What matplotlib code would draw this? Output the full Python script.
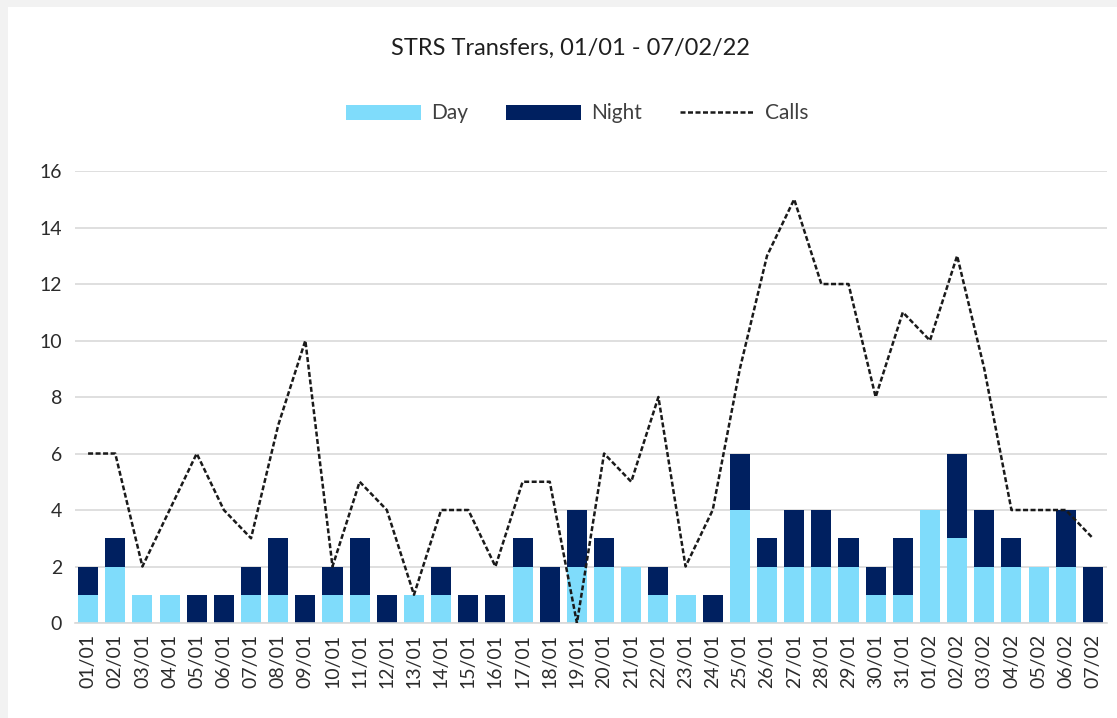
import numpy as np
import matplotlib.pyplot as plt
from matplotlib.patches import Rectangle

# dates on the x axis
dates = ['01/01', '02/01', '03/01', '04/01', '05/01', '06/01', '07/01', '08/01', '09/01', '10/01',
         '11/01', '12/01', '13/01', '14/01', '15/01', '16/01', '17/01', '18/01', '19/01', '20/01',
         '21/01', '22/01', '23/01', '24/01', '25/01', '26/01', '27/01', '28/01', '29/01', '30/01',
         '31/01', '01/02', '02/02', '03/02', '04/02', '05/02', '06/02', '07/02']

# transfers split by shift
day = [1, 2, 1, 1, 0, 0, 1, 1, 0, 1,
       1, 0, 1, 1, 0, 0, 2, 0, 2, 2,
       2, 1, 1, 0, 4, 2, 2, 2, 2, 1,
       1, 4, 3, 2, 2, 2, 2, 0]
night = [1, 1, 0, 0, 1, 1, 1, 2, 1, 1,
         2, 1, 0, 1, 1, 1, 1, 2, 2, 1,
         0, 1, 0, 1, 2, 1, 2, 2, 1, 1,
         2, 0, 3, 2, 1, 0, 2, 2]

# total calls
calls = [6, 6, 2, 4, 6, 4, 3, 7, 10, 2,
         5, 4, 1, 4, 4, 2, 5, 5, 0, 6,
         5, 8, 2, 4, 9, 13, 15, 12, 12, 8,
         11, 10, 13, 9, 4, 4, 4, 3]

plt.rcParams['font.family'] = ['Lato', 'DejaVu Sans']
txt = '#2b2b2b'

fig = plt.figure(figsize=(11.17, 7.18), dpi=100, facecolor='#f2f2f2')
fig.patches.append(Rectangle((8 / 1117, 0), 1, 1 - 7 / 718, transform=fig.transFigure,
                             facecolor='white', edgecolor='none', zorder=-5))

ax = fig.add_axes([0.0667, 0.1323, 0.9239, 0.6295])
ax.set_facecolor('none')

x = np.arange(len(dates))
b1 = ax.bar(x, day, width=0.74, color='#7fdcfb', label='Day', zorder=2)
b2 = ax.bar(x, night, width=0.74, bottom=day, color='#002060', label='Night', zorder=2)
ln, = ax.plot(x, calls, color='#1a1a1a', lw=1.8, dashes=(2, 1), label='Calls', zorder=3)

ax.set_xlim(-0.5, len(dates) - 0.5)
ax.set_ylim(0, 16)
ax.set_yticks(range(0, 17, 2))
ax.set_xticks(x)
ax.set_xticklabels(dates, rotation=90)
ax.tick_params(axis='both', length=0, labelsize=14, colors=txt)
ax.tick_params(axis='x', pad=8)
ax.tick_params(axis='y', pad=9)
ax.yaxis.grid(True, color='#d9d9d9', lw=1.2, zorder=0)
ax.set_axisbelow(True)
for s in ['top', 'right', 'left']:
    ax.spines[s].set_visible(False)
ax.spines['bottom'].set_color('#d9d9d9')
ax.spines['bottom'].set_linewidth(1.2)

fig.text(0.511, 0.933, 'STRS Transfers, 01/01 - 07/02/22', ha='center', va='center',
         fontsize=17, color='#1f1f1f')

fig.legend([b1, b2, ln], ['Day', 'Night', 'Calls'], loc='center',
           bbox_to_anchor=(0.517, 0.842), ncol=3, frameon=False,
           fontsize=15, labelcolor='#404040', handlelength=3.6, handleheight=0.75,
           handletextpad=0.5, columnspacing=1.8)

fig.savefig('out.png', dpi=100, facecolor=fig.get_facecolor())
